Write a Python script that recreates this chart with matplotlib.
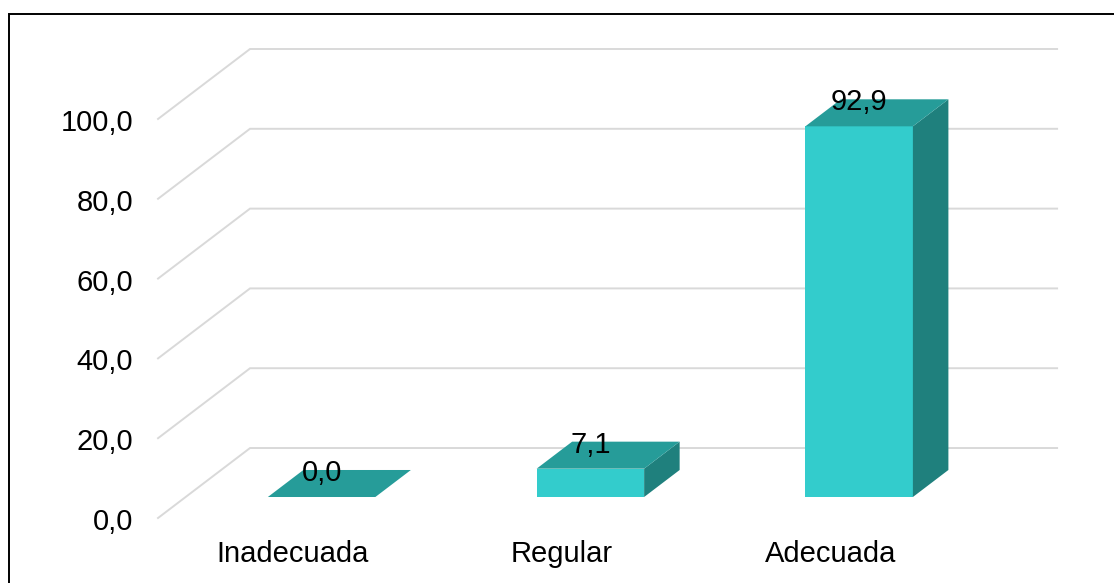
import matplotlib
matplotlib.use("Agg")
import matplotlib.pyplot as plt
from matplotlib.patches import Polygon, Rectangle

# ---- data ----
categories = ["Inadecuada", "Regular", "Adecuada"]
values = [0.0, 7.1, 92.9]
yticks = [0, 20, 40, 60, 80, 100]
ytick_labels = ["0,0", "20,0", "40,0", "60,0", "80,0", "100,0"]
value_labels = ["0,0", "7,1", "92,9"]

# ---- style ----
FRONT = "#33CCCC"
TOP = "#269C99"
SIDE = "#1F807D"
GRID = "#D9D9D9"
FONT = "Liberation Sans"
FS = 21

plt.rcParams["font.family"] = [FONT, "DejaVu Sans"]

fig = plt.figure(figsize=(11.14, 5.83), dpi=100)
ax = fig.add_axes([0, 0, 1, 1])
ax.set_xlim(-1.094, 3.051)
ax.set_ylim(-16.29, 129.82)
ax.axis("off")

# depth projection (data units per full depth)
DX, DY = 0.3423, 17.54
X0, X1 = -0.506, 2.497
d_front, d_back = 0.30, 0.686
bw = 0.40


def proj(x, v, d):
    return (x + DX * d, v + DY * d)


# gridlines: side wall diagonal + back wall line
for v in yticks:
    p0 = proj(X0, v, 0)
    p1 = proj(X0, v, 1)
    p2 = proj(X1, v, 1)
    ax.plot([p0[0], p1[0], p2[0]], [p0[1], p1[1], p2[1]],
            color=GRID, lw=1.4, zorder=1, solid_joinstyle="miter")

# bars
for i, val in enumerate(values):
    xl, xr = i - bw / 2, i + bw / 2
    front = [proj(xl, 0, d_front), proj(xr, 0, d_front),
             proj(xr, val, d_front), proj(xl, val, d_front)]
    top = [proj(xl, val, d_front), proj(xr, val, d_front),
           proj(xr, val, d_back), proj(xl, val, d_back)]
    side = [proj(xr, 0, d_front), proj(xr, 0, d_back),
            proj(xr, val, d_back), proj(xr, val, d_front)]
    if val > 0:
        ax.add_patch(Polygon(front, closed=True, facecolor=FRONT, edgecolor="none", zorder=3))
        ax.add_patch(Polygon(side, closed=True, facecolor=SIDE, edgecolor="none", zorder=3))
    ax.add_patch(Polygon(top, closed=True, facecolor=TOP, edgecolor="none", zorder=3))
    lx, ly = proj(i, val, d_front)[0], proj(i, val, d_back)[1]
    ax.text(lx, ly - 0.8, value_labels[i], ha="center", va="center",
            fontsize=FS, color="black", zorder=5)

# y tick labels (front plane)
for v, lab in zip(yticks, ytick_labels):
    ax.text(-0.599, v - 1.0, lab, ha="right", va="center", fontsize=FS, color="black")

# category labels
for i, c in enumerate(categories):
    ax.text(i - 0.005, -9.0, c, ha="center", va="center", fontsize=FS, color="black")

# outer border
fig.patches.append(Rectangle((9 / 1114, -0.1), 1.2, 1.1 - 14 / 583,
                             transform=fig.transFigure, fill=False,
                             edgecolor="black", lw=1.4, zorder=10))

fig.savefig("out.png", dpi=100)
